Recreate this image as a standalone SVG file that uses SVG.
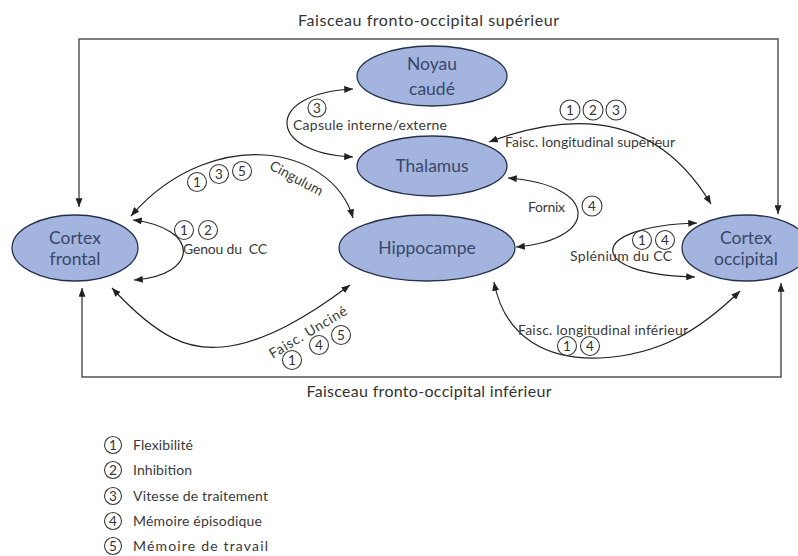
<svg xmlns="http://www.w3.org/2000/svg" width="798" height="556" viewBox="0 0 798 556">
<style>
.node{fill:#a3b5de;stroke:#27304a;stroke-width:1.3}
.nt{font-family:Lato,"Liberation Sans",sans-serif;font-size:17.5px;fill:#3a4769;text-anchor:middle}
.ln{fill:none;stroke:#222;stroke-width:1.2}
.bx{fill:none;stroke:#555;stroke-width:1.5}
.lb{font-family:Lato,"Liberation Sans",sans-serif;font-size:14px;fill:#3a3a3a}
.ti{font-family:Lato,"Liberation Sans",sans-serif;font-size:16px;fill:#333;text-anchor:middle}
.cn circle{fill:none;stroke:#3a3a3a;stroke-width:1.1}
.cn text{font-family:Lato,"Liberation Sans",sans-serif;font-size:13.5px;fill:#333;text-anchor:middle}
</style>
<defs>
<marker id="ah" viewBox="0 0 10 8" refX="10" refY="4" markerWidth="9" markerHeight="7" markerUnits="userSpaceOnUse" orient="auto-start-reverse">
<path d="M0,0 L10,4 L0,8 z" fill="#222"/>
</marker>
</defs>
<rect width="798" height="556" fill="#fff"/>

<g id="connectors">
<path class="bx" d="M79,207 V39 H778 V214" marker-start="url(#ah)" marker-end="url(#ah)"/>
<path class="bx" d="M82,288 V377 H781 V283" marker-start="url(#ah)" marker-end="url(#ah)"/>
<path class="ln" d="M353,89 C265,93 265,153 353,157" marker-start="url(#ah)" marker-end="url(#ah)"/>
<path class="ln" d="M489,142 Q640,85 711,204" marker-start="url(#ah)" marker-end="url(#ah)"/>
<path class="ln" d="M508,178 C600,185 600,240 516,247" marker-start="url(#ah)" marker-end="url(#ah)"/>
<path class="ln" d="M131,216 C175,165 230,152 265,155 C305,158 342,180 353,218" marker-start="url(#ah)" marker-end="url(#ah)"/>
<path class="ln" d="M133,220 C200,228 200,275 134,280" marker-start="url(#ah)" marker-end="url(#ah)"/>
<path class="ln" d="M112,288 C160,340 190,350 222,347 C265,343 310,315 350,285" marker-start="url(#ah)" marker-end="url(#ah)"/>
<path class="ln" d="M697,223 C585,226 585,275 695,277" marker-start="url(#ah)" marker-end="url(#ah)"/>
<path class="ln" d="M494,282 C505,340 550,360 600,358 C660,355 700,330 740,291" marker-start="url(#ah)" marker-end="url(#ah)"/>
</g>

<g id="labels">
<text class="ti" x="428.5" y="26" textLength="261" lengthAdjust="spacing">Faisceau fronto-occipital supérieur</text>
<text class="ti" x="429" y="397" textLength="245" lengthAdjust="spacing">Faisceau fronto-occipital inférieur</text>
<text class="lb" x="293" y="130" textLength="154" lengthAdjust="spacing">Capsule interne/externe</text>
<text class="lb" x="505" y="147" textLength="170" lengthAdjust="spacing">Faisc. longitudinal supérieur</text>
<text class="lb" x="528" y="212" textLength="37" lengthAdjust="spacing">Fornix</text>
<text class="lb" x="183" y="254" style="white-space:pre" textLength="84" lengthAdjust="spacing">Genou du  CC</text>
<text class="lb" x="570" y="261" textLength="102" lengthAdjust="spacing">Splénium du CC</text>
<text class="lb" x="518" y="335" textLength="170" lengthAdjust="spacing">Faisc. longitudinal inférieur</text>
<text class="lb" x="296" y="183" text-anchor="middle" transform="rotate(28 296 179)">Cingulum</text>
<text class="lb" x="308" y="337" text-anchor="middle" transform="rotate(-31 308 332)" textLength="88" lengthAdjust="spacing">Faisc. Unciné</text>
<g class="cn">
<circle cx="317" cy="108" r="9"/><text x="317" y="113">3</text>
<circle cx="570" cy="110" r="10"/><text x="570" y="115">1</text>
<circle cx="593" cy="110" r="10"/><text x="593" y="115">2</text>
<circle cx="616" cy="110" r="10"/><text x="616" y="115">3</text>
<circle cx="592" cy="206" r="10"/><text x="592" y="211">4</text>
<circle cx="197" cy="182" r="9.5"/><text x="197" y="187">1</text>
<circle cx="219" cy="174" r="9.5"/><text x="219" y="179">3</text>
<circle cx="242" cy="171" r="9.5"/><text x="242" y="176">5</text>
<circle cx="184" cy="230" r="9.5"/><text x="184" y="235">1</text>
<circle cx="208" cy="230" r="9.5"/><text x="208" y="235">2</text>
<circle cx="642" cy="240" r="9.5"/><text x="642" y="245">1</text>
<circle cx="665" cy="240" r="9.5"/><text x="665" y="245">4</text>
<circle cx="567" cy="346" r="9.5"/><text x="567" y="351">1</text>
<circle cx="590" cy="346" r="9.5"/><text x="590" y="351">4</text>
<circle cx="292" cy="360" r="9.5"/><text x="292" y="365">1</text>
<circle cx="319" cy="345" r="9.5"/><text x="319" y="350">4</text>
<circle cx="341" cy="335" r="9.5"/><text x="341" y="340">5</text>
</g>
</g>

<g id="node-noyau">
<ellipse class="node" cx="432" cy="76" rx="75" ry="30"/>
<text class="nt" x="432" y="70">Noyau</text>
<text class="nt" x="432" y="95">caudé</text>
</g>
<g id="node-thalamus">
<ellipse class="node" cx="432" cy="166" rx="75" ry="30"/>
<text class="nt" x="432" y="172">Thalamus</text>
</g>
<g id="node-hippocampe">
<ellipse class="node" cx="427" cy="248" rx="88" ry="33"/>
<text class="nt" x="427" y="254">Hippocampe</text>
</g>
<g id="node-cortex-frontal">
<ellipse class="node" cx="75" cy="248" rx="63" ry="33"/>
<text class="nt" x="75" y="244">Cortex</text>
<text class="nt" x="75" y="265">frontal</text>
</g>
<g id="node-cortex-occipital">
<ellipse class="node" cx="746" cy="248" rx="64" ry="33"/>
<text class="nt" x="746" y="244">Cortex</text>
<text class="nt" x="746" y="265">occipital</text>
</g>

<g id="legend">
<g class="cn">
<circle cx="113" cy="445" r="8.5"/><text x="113" y="450">1</text>
<circle cx="113" cy="470" r="8.5"/><text x="113" y="475">2</text>
<circle cx="113" cy="496" r="8.5"/><text x="113" y="501">3</text>
<circle cx="113" cy="521" r="8.5"/><text x="113" y="526">4</text>
<circle cx="113" cy="546" r="8.5"/><text x="113" y="551">5</text>
</g>
<text class="lb" x="133" y="450" textLength="60" lengthAdjust="spacing">Flexibilité</text>
<text class="lb" x="133" y="475" textLength="59" lengthAdjust="spacing">Inhibition</text>
<text class="lb" x="133" y="501" textLength="135" lengthAdjust="spacing">Vitesse de traitement</text>
<text class="lb" x="133" y="526" textLength="129" lengthAdjust="spacing">Mémoire épisodique</text>
<text class="lb" x="133" y="551" textLength="135" lengthAdjust="spacing">Mémoire de travail</text>
</g>
</svg>
